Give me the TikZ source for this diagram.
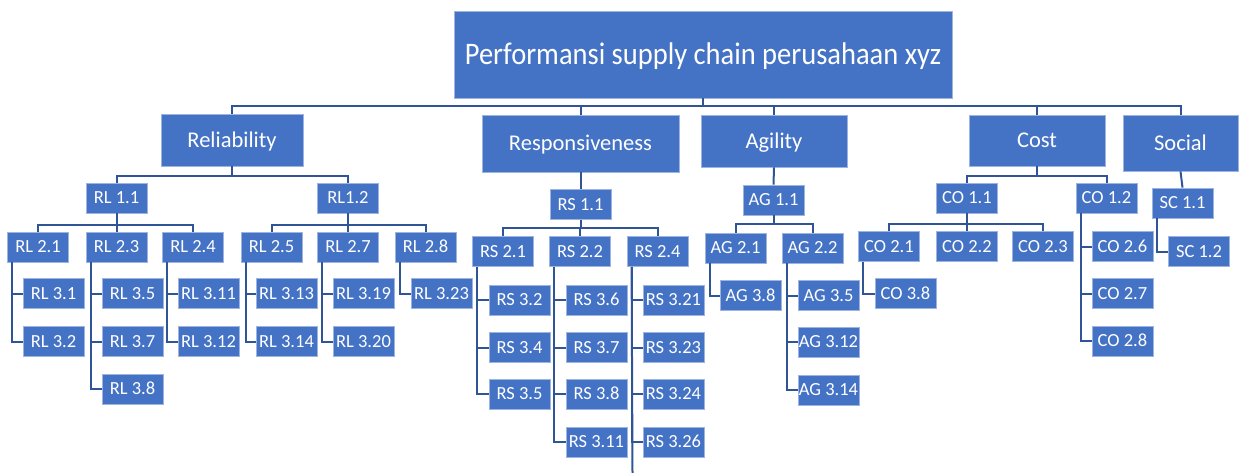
\documentclass[tikz,border=0pt]{standalone}
\usepackage{fontspec}
\usepackage{graphicx}
\setmainfont{Carlito}
\definecolor{boxblue}{HTML}{4472C4}
\definecolor{boxedge}{HTML}{9DB3E0}
\definecolor{linkblue}{HTML}{2F5597}
\tikzset{
  lvbox/.style={fill=boxblue, draw=boxedge, line width=0.8pt, text=white, inner sep=0pt, anchor=center},
  sbox/.style={lvbox, minimum width=61pt, minimum height=30pt,
    font=\fontsize{18.5}{21}\selectfont, text height=11.9pt, text depth=0pt},
  mbox/.style={lvbox, font=\fontsize{22.5}{26}\selectfont, text height=14.5pt, text depth=0pt},
  link/.style={draw=linkblue, line width=2pt},
}
\begin{document}
\begin{tikzpicture}[x=1pt,y=-1pt]
\useasboundingbox (0,0) rectangle (1239,473);

% root
\node[lvbox, minimum width=498pt, minimum height=87pt,
  font=\fontsize{28.5}{32}\selectfont, text height=20.2pt, text depth=0pt]
  (root) at (703,54.5) {\scalebox{1}[1.1]{Performansi supply chain perusahaan xyz}};

% main attributes
\node[mbox, minimum width=142pt, minimum height=52pt] (rel) at (232,140) {Reliability};
\node[mbox, minimum width=197pt, minimum height=57pt] (res) at (580.5,143.5) {Responsiveness};
\node[mbox, minimum width=146pt, minimum height=52pt] (agi) at (774,141) {Agility};
\node[mbox, minimum width=136pt, minimum height=51pt] (cost) at (1037,140.5) {Cost};
\node[mbox, minimum width=115pt, minimum height=56pt] (soc) at (1180.5,143) {Social};

% level 1 metrics
\node[sbox] (rl11) at (116.5,198) {RL 1.1};
\node[sbox] (rl12) at (348,198) {RL1.2};
\node[sbox] (rs11) at (580.5,204.5) {RS 1.1};
\node[sbox] (ag11) at (773.5,200) {AG 1.1};
\node[sbox] (co11) at (967,198) {CO 1.1};
\node[sbox] (co12) at (1106.5,198) {CO 1.2};
\node[sbox] (sc11) at (1182.5,203) {SC 1.1};

% level 2 metrics
\node[sbox] (rl21) at (38,247) {RL 2.1};
\node[sbox] (rl23) at (116.5,247) {RL 2.3};
\node[sbox] (rl24) at (193,247) {RL 2.4};
\node[sbox] (rl25) at (271.5,247) {RL 2.5};
\node[sbox] (rl27) at (348,247) {RL 2.7};
\node[sbox] (rl28) at (425.5,247) {RL 2.8};
\node[sbox] (rs21) at (503,251.5) {RS 2.1};
\node[sbox] (rs22) at (580,251.5) {RS 2.2};
\node[sbox] (rs24) at (657.5,251.5) {RS 2.4};
\node[sbox] (ag21) at (735.5,248) {AG 2.1};
\node[sbox] (ag22) at (812.5,248) {AG 2.2};
\node[sbox] (co21) at (889,246.5) {CO 2.1};
\node[sbox] (co22) at (967,246.5) {CO 2.2};
\node[sbox] (co23) at (1043,246.5) {CO 2.3};
\node[sbox] (co26) at (1122.5,246.5) {CO 2.6};
\node[sbox] (co27) at (1122.5,293.5) {CO 2.7};
\node[sbox] (co28) at (1122.5,341) {CO 2.8};
\node[sbox] (sc12) at (1199,251.5) {SC 1.2};

% level 3 metrics
\node[sbox] (rl31) at (53.5,293.5) {RL 3.1};
\node[sbox] (rl32) at (53.5,341.5) {RL 3.2};
\node[sbox] (rl35) at (132.5,293.5) {RL 3.5};
\node[sbox] (rl37) at (132.5,341.5) {RL 3.7};
\node[sbox] (rl38) at (132.5,389) {RL 3.8};
\node[sbox] (rl311) at (208.5,293.5) {RL 3.11};
\node[sbox] (rl312) at (208.5,341.5) {RL 3.12};
\node[sbox] (rl313) at (286.5,293.5) {RL 3.13};
\node[sbox] (rl314) at (286.5,341.5) {RL 3.14};
\node[sbox] (rl319) at (363.5,293.5) {RL 3.19};
\node[sbox] (rl320) at (363.5,341.5) {RL 3.20};
\node[sbox] (rl323) at (441.5,293.5) {RL 3.23};

\node[sbox] (rs32) at (519.5,300) {RS 3.2};
\node[sbox] (rs34) at (519.5,347.5) {RS 3.4};
\node[sbox] (rs35) at (519.5,394) {RS 3.5};
\node[sbox] (rs36) at (596.5,300) {RS 3.6};
\node[sbox] (rs37) at (596.5,347.5) {RS 3.7};
\node[sbox] (rs38) at (596.5,394) {RS 3.8};
\node[sbox] (rs311) at (596.5,442) {RS 3.11};
\node[sbox] (rs321) at (673.5,300) {RS 3.21};
\node[sbox] (rs323) at (673.5,347.5) {RS 3.23};
\node[sbox] (rs324) at (673.5,394) {RS 3.24};
\node[sbox] (rs326) at (673.5,442) {RS 3.26};

\node[sbox] (ag38) at (750.5,295.5) {AG 3.8};
\node[sbox] (ag35) at (828.5,295.5) {AG 3.5};
\node[sbox] (ag312) at (828.5,342) {AG 3.12};
\node[sbox] (ag314) at (828.5,390) {AG 3.14};

\node[sbox] (co38) at (905.5,293.5) {CO 3.8};

\coordinate (rsend) at (632.5,473);

% root to attributes
\foreach \c in {rel,res,agi,cost,soc}
  \draw[link] (root.south) -- ++(0,8) -| (\c.north);

% attributes to level 1
\foreach \c in {rl11,rl12} \draw[link] (rel.south) -- ++(0,10) -| (\c.north);
\draw[link] (res.south) -- (rs11.north);
\draw[link] (agi.south) -- (ag11.north);
\foreach \c in {co11,co12} \draw[link] (cost.south) -- ++(0,9.5) -| (\c.north);
\draw[link] (soc.south) -- (sc11.north);

% level 1 to level 2 buses
\foreach \c in {rl21,rl23,rl24} \draw[link] (rl11.south) -- ++(0,12) -| (\c.north);
\foreach \c in {rl25,rl27,rl28} \draw[link] (rl12.south) -- ++(0,12) -| (\c.north);
\foreach \c in {rs21,rs22,rs24} \draw[link] (rs11.south) -- ++(0,8) -| (\c.north);
\foreach \c in {ag21,ag22} \draw[link] (ag11.south) -- ++(0,9) -| (\c.north);
\foreach \c in {co21,co22,co23} \draw[link] (co11.south) -- ++(0,11) -| (\c.north);

% hanging lists
\foreach \p/\c in {rl21/rl31, rl21/rl32, rl23/rl35, rl23/rl37, rl23/rl38,
    rl24/rl311, rl24/rl312, rl25/rl313, rl25/rl314, rl27/rl319, rl27/rl320,
    rl28/rl323, rs21/rs32, rs21/rs34, rs21/rs35, rs22/rs36, rs22/rs37,
    rs22/rs38, rs22/rs311, rs24/rs321, rs24/rs323, rs24/rs324, rs24/rs326,
    ag21/ag38, ag22/ag35, ag22/ag312, ag22/ag314, co21/co38,
    co12/co26, co12/co27, co12/co28, sc11/sc12}
  \draw[link] ([xshift=5pt]\p.south west) |- (\c.west);
\draw[link] ([xshift=5pt]rs24.south west) -- (rsend);
\end{tikzpicture}
\end{document}
